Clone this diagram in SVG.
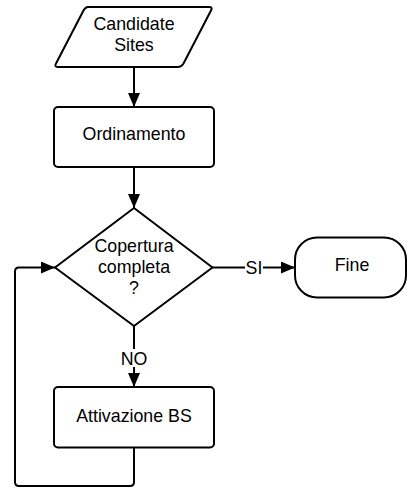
<svg xmlns="http://www.w3.org/2000/svg" width="407" height="493" viewBox="0 0 407 493">
  <defs>
    <marker id="arrow" viewBox="0 0 14 12" refX="14" refY="6" markerWidth="14" markerHeight="12" markerUnits="userSpaceOnUse" orient="auto">
      <path d="M0,0 L14,6 L0,12 Z" fill="#000"/>
    </marker>
  </defs>
  <style>
    .shape { fill: #fff; stroke: #000; stroke-width: 2; stroke-linejoin: round; }
    .edge { fill: none; stroke: #000; stroke-width: 2; stroke-linejoin: round; }
    .label { font-family: "Liberation Sans", Arial, sans-serif; font-size: 17.8px; fill: #000; text-anchor: middle; }
    .edge-label-bg { fill: #fff; stroke: none; }
  </style>
  <rect width="407" height="493" fill="#fff"/>

  <g id="connectors">
    <path class="edge" d="M134,67 L134,107" marker-end="url(#arrow)"/>
    <path class="edge" d="M134,167 L134,208" marker-end="url(#arrow)"/>
    <path class="edge" d="M212,267.5 L295,267.5" marker-end="url(#arrow)"/>
    <path class="edge" d="M134,326 L134,387" marker-end="url(#arrow)"/>
    <path class="edge" d="M134,447 L134,482 Q134,486 130,486 L19,486 Q15,486 15,482 L15,271.5 Q15,267.5 19,267.5 L55,267.5" marker-end="url(#arrow)"/>
    <rect class="edge-label-bg" x="245" y="258" width="18" height="20"/>
    <text class="label" x="254" y="274">SI</text>
    <rect class="edge-label-bg" x="121" y="349" width="26" height="18"/>
    <text class="label" x="134" y="364.5">NO</text>
  </g>

  <g id="candidate-sites">
    <path class="shape" d="M88,7 L209,7 Q213,7 211,10.5 L183.5,63.5 Q181.5,67 177.5,67 L58,67 Q54,67 56,63.5 L83.5,10.5 Q85.5,7 88,7 Z"/>
    <text class="label" x="134" y="29.5">Candidate</text>
    <text class="label" x="134" y="51">Sites</text>
  </g>

  <g id="ordinamento">
    <rect class="shape" x="54" y="107" width="160" height="60" rx="4"/>
    <text class="label" x="134" y="140">Ordinamento</text>
  </g>

  <g id="copertura">
    <path class="shape" d="M134,208 L212.5,267.5 L134,326 L55,267.5 Z"/>
    <text class="label" x="134" y="251.5">Copertura</text>
    <text class="label" x="134" y="273">completa</text>
    <text class="label" x="134" y="294">?</text>
  </g>

  <g id="fine">
    <rect class="shape" x="295" y="237.5" width="111" height="60" rx="22"/>
    <text class="label" x="352" y="271">Fine</text>
  </g>

  <g id="attivazione-bs">
    <rect class="shape" x="54" y="387" width="160" height="60.5" rx="4"/>
    <text class="label" x="134" y="421.5">Attivazione BS</text>
  </g>
</svg>
